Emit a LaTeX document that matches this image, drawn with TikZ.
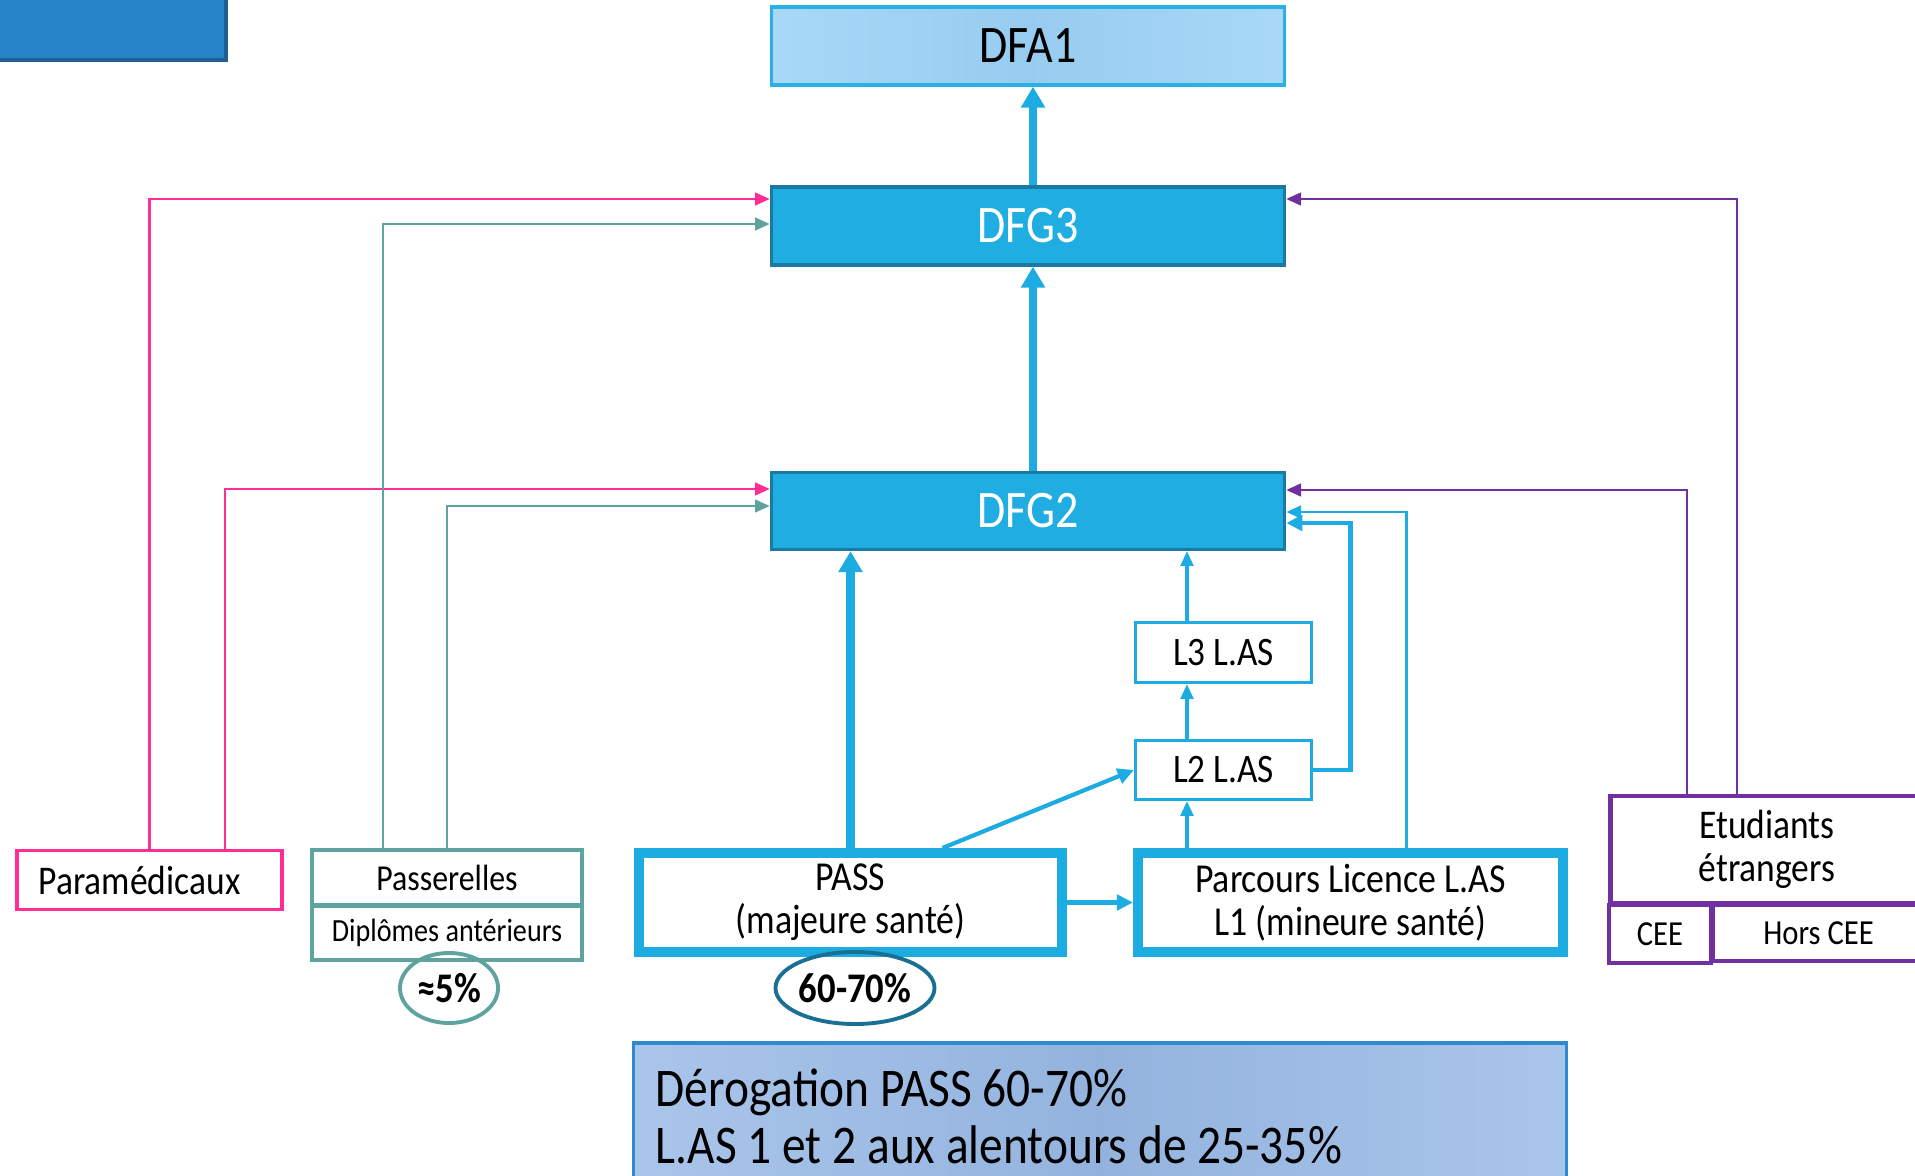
\documentclass[tikz,border=0pt]{standalone}
\usepackage{fontspec}
\setmainfont{Carlito}[FakeStretch=0.87]
\usetikzlibrary{arrows.meta,calc,shapes.geometric}
\definecolor{lasblue}{HTML}{1DACE2}
\definecolor{dfgfill}{HTML}{1FADE2}
\definecolor{dfgedge}{HTML}{1A7AA3}
\definecolor{dfaedge}{HTML}{29B1E6}
\definecolor{dfaside}{HTML}{A9D8F7}
\definecolor{dfamid}{HTML}{97CCF0}
\definecolor{pinkc}{HTML}{FF2D95}
\definecolor{tealc}{HTML}{5FA39F}
\definecolor{purplec}{HTML}{7030A0}
\definecolor{pctedge}{HTML}{1A6F95}
\definecolor{cornerfill}{HTML}{2683C6}
\definecolor{corneredge}{HTML}{1F5F95}
\definecolor{derogedge}{HTML}{2F8AD0}
\definecolor{derogside}{HTML}{AAC5EA}
\definecolor{derogmid}{HTML}{93B3DE}

\begin{document}
\begin{tikzpicture}[x=0.01cm,y=-0.01cm,
    box/.style={draw,rectangle,inner sep=0pt,align=center},
    link/.style={line width=0.7pt,-{Triangle[length=4.2pt,width=3.6pt]}},
    mid link/.style={line width=1.2pt,lasblue,-{Triangle[length=4.6pt,width=4.4pt]}},
    bold link/.style={line width=2.3pt,lasblue,-{Triangle[length=6pt,width=6.6pt]}},
    pct/.style={draw,ellipse,inner sep=0pt,line width=1.1pt,font=\fontsize{12}{14}\selectfont\bfseries}]
    \useasboundingbox (0,0) rectangle (1915,1176);

    % top row
    \node[box,fill=cornerfill,draw=corneredge,line width=1.2pt,minimum width=2.46cm,minimum height=0.80cm] (corner) at (103,20) {};
    \node[box,left color=dfaside,right color=dfaside,middle color=dfamid,draw=dfaedge,line width=0.9pt,
        minimum width=5.13cm,minimum height=0.78cm,font=\fontsize{15}{18}\selectfont] (dfa1) at (1028,46) {DFA1};
    \node[box,fill=dfgfill,draw=dfgedge,line width=0.9pt,text=white,
        minimum width=5.13cm,minimum height=0.78cm,font=\fontsize{15}{18}\selectfont] (dfg3) at (1028,226) {DFG3};
    \node[box,fill=dfgfill,draw=dfgedge,line width=0.9pt,text=white,
        minimum width=5.13cm,minimum height=0.77cm,font=\fontsize{15}{18}\selectfont] (dfg2) at (1028,511) {DFG2};

    % L.AS column
    \node[box,draw=lasblue,line width=0.9pt,minimum width=1.76cm,minimum height=0.60cm,font=\fontsize{11.5}{14}\selectfont] (las3) at (1223.5,652.5) {L3 L.AS};
    \node[box,draw=lasblue,line width=0.9pt,minimum width=1.76cm,minimum height=0.59cm,font=\fontsize{11.5}{14}\selectfont] (las2) at (1223.5,770) {L2 L.AS};
    \node[box,draw=lasblue,line width=2.8pt,minimum width=4.23cm,minimum height=0.99cm,font=\fontsize{11.7}{12.3}\selectfont] (pass) at (850.5,902.5) {PASS\\(majeure santé)};
    \node[box,draw=lasblue,line width=2.8pt,minimum width=4.25cm,minimum height=0.99cm,font=\fontsize{11.7}{12.3}\selectfont] (las1) at (1350.5,902.5) {Parcours Licence L.AS\\L1 (mineure santé)};

    % other entries
    \node[box,draw=pinkc,line width=1.1pt,minimum width=2.64cm,minimum height=0.59cm,font=\fontsize{11.6}{14}\selectfont] (para) at (149.5,880) {Paramédicaux\hspace{0.2cm}};
    \node[box,draw=tealc,line width=1pt,minimum width=2.70cm,minimum height=0.55cm,font=\fontsize{10.4}{12}\selectfont] (passer) at (447,877.5) {Passerelles};
    \node[box,draw=tealc,line width=1pt,minimum width=2.70cm,minimum height=0.54cm,font=\fontsize{9.2}{11}\selectfont] (diplomes) at (447,933) {Diplômes antérieurs};
    \node[pct,draw=tealc,minimum width=0.98cm,minimum height=0.70cm] (pct5) at (449,988) {≈5\%};
    \node[pct,draw=pctedge,minimum width=1.40cm,minimum height=0.72cm] (pct60) at (855,988) {60-70\%};
    \node[box,draw=purplec,line width=1.3pt,minimum width=3.13cm,minimum height=1.07cm,font=\fontsize{11.6}{12.3}\selectfont] (etud) at (1767,849.5) {Etudiants\\étrangers};
    \node[box,draw=purplec,line width=1.3pt,minimum width=1.02cm,minimum height=0.58cm,font=\fontsize{10}{12}\selectfont] (cee) at (1660,934) {CEE};
    \node[box,draw=purplec,line width=1.3pt,minimum width=2.11cm,minimum height=0.56cm,font=\fontsize{10}{12}\selectfont] (horscee) at (1818.5,933) {Hors CEE};

    % note
    \node[draw=derogedge,line width=0.9pt,left color=derogside,right color=derogside,middle color=derogmid,
        text width=8.88cm,inner xsep=0.22cm,minimum height=1.47cm,align=flush left,font=\fontsize{15.5}{16.3}\selectfont] (derog) at (1100,1116.5)
        {Dérogation PASS 60-70\%\\L.AS 1 et 2 aux alentours de 25-35\%};

    % connectors
    \coordinate (spine) at ([xshift=0.05cm]dfg2.north);
    \coordinate (col) at ([xshift=-0.365cm]las2.south);
    \draw[bold link] (spine |- dfg3.north) -- (spine |- dfa1.south);
    \draw[bold link] (spine) -- (spine |- dfg3.south);
    \draw[bold link] (pass.north) -- (pass.north |- dfg2.south);
    \draw[link,pinkc] (para.north) |- ($(dfg3.west)+(0,-27)$);
    \draw[link,pinkc] ($(para.north)+(75.5,0)$) |- ($(dfg2.west)+(0,-22)$);
    \draw[link,tealc] ($(passer.north)+(-64,0)$) |- ($(dfg3.west)+(0,-2)$);
    \draw[link,tealc] (passer.north) |- ($(dfg2.west)+(0,-5)$);
    \draw[link,purplec] ($(etud.north)+(-30,0)$) |- ($(dfg3.east)+(0,-27)$);
    \draw[link,purplec] ($(etud.north)+(-80,0)$) |- ($(dfg2.east)+(0,-21)$);
    \draw[link,lasblue] ($(las1.north)+(56,0)$) |- ($(dfg2.east)+(0,1)$);
    \draw[mid link,line width=1.4pt] (las2.east) -- ++(37,0) |- ($(dfg2.east)+(0,12)$);
    \draw[link,lasblue,line width=0.9pt] (col |- las1.north) -- (col);
    \draw[link,lasblue,line width=0.9pt] (col |- las2.north) -- (col |- las3.south);
    \draw[link,lasblue,line width=0.9pt] (col |- las3.north) -- (col |- dfg2.south);
    \draw[mid link] ($(pass.north)+(92,0)$) -- (las2.west);
    \draw[mid link] (pass.east) -- (las1.west);
\end{tikzpicture}
\end{document}
